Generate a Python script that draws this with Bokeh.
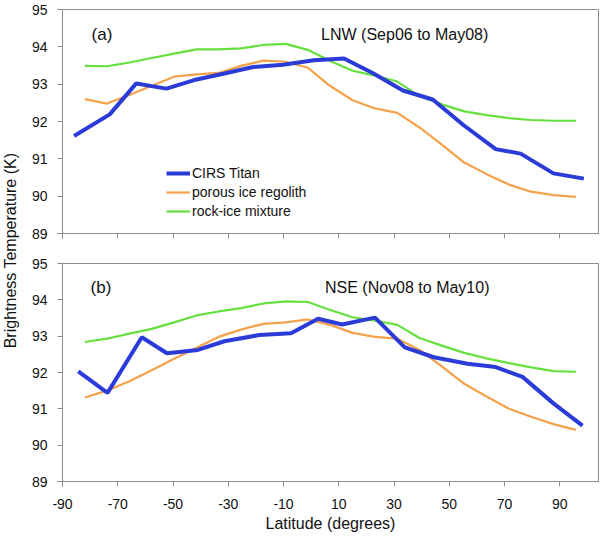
import math
from bokeh.plotting import figure
from bokeh.layouts import row, column
from bokeh.models import Range1d, FixedTicker, Legend, LegendItem, Label, CustomLabelingPolicy
from bokeh.embed import file_html
from bokeh.resources import INLINE

# ---------------- data ----------------
x_ticks = [-90, -70, -50, -30, -10, 10, 30, 50, 70, 90]
x_tick_labels = ["-90", "-70", "-50", "-30", "-10", "10", "30", "50", "70", "90"]
y_ticks = [89, 90, 91, 92, 93, 94, 95]

lat_cirs_a = [-85.8, -72.9, -63.3, -52.4, -42.3, -31.8, -21.0, -10.2, 1.0, 11.9,
              22.4, 33.2, 44.0, 55.2, 66.8, 75.8, 87.7, 98.7]
cirs_a = [91.61, 92.19, 93.02, 92.88, 93.11, 93.28, 93.46, 93.52, 93.64, 93.69,
          93.29, 92.83, 92.59, 91.90, 91.26, 91.14, 90.61, 90.47]

lat_model = [-81.9, -73.9, -65.8, -57.7, -49.6, -41.5, -33.5, -25.4, -17.3, -9.2,
             -1.2, 6.9, 15.0, 23.1, 31.2, 39.2, 47.3, 55.4, 63.5, 71.6, 79.6, 87.7, 95.8]
regolith_a = [92.60, 92.48, 92.71, 92.96, 93.20, 93.26, 93.30, 93.49, 93.63, 93.60,
              93.44, 92.95, 92.57, 92.35, 92.23, 91.84, 91.38, 90.90, 90.59, 90.31,
              90.12, 90.03, 89.98]
rockice_a = [93.49, 93.48, 93.58, 93.70, 93.82, 93.93, 93.93, 93.96, 94.05, 94.08,
             93.92, 93.62, 93.36, 93.23, 93.07, 92.68, 92.46, 92.27, 92.17, 92.09,
             92.04, 92.02, 92.02]

lat_cirs_b = [-84.3, -73.7, -61.3, -52.2, -41.0, -31.4, -18.8, -7.3, 2.5, 11.2,
              23.1, 33.9, 44.4, 56.6, 66.8, 76.5, 87.7, 98.2]
cirs_b = [92.03, 91.44, 92.97, 92.53, 92.62, 92.86, 93.03, 93.08, 93.48, 93.32,
          93.51, 92.69, 92.42, 92.24, 92.15, 91.88, 91.15, 90.54]
regolith_b = [91.31, 91.50, 91.76, 92.06, 92.38, 92.68, 92.98, 93.18, 93.34, 93.38,
              93.46, 93.31, 93.09, 92.98, 92.93, 92.62, 92.17, 91.69, 91.34, 91.00,
              90.78, 90.58, 90.42]
rockice_b = [92.84, 92.93, 93.07, 93.20, 93.38, 93.57, 93.68, 93.77, 93.90, 93.96,
             93.94, 93.72, 93.52, 93.43, 93.31, 92.95, 92.74, 92.54, 92.39, 92.26,
             92.14, 92.04, 92.02]

series_names = ["CIRS Titan", "porous ice regolith", "rock-ice mixture"]

# ---------------- style ----------------
FONT = "Liberation Sans"
AX = "#8c8c8c"
BLUE = "#2b3bd8"
ORANGE = "#f5a14a"
GREEN = "#66e03f"


def make_fig(height, min_top, min_bottom, show_x_labels):
    p = figure(width=571, height=height, x_range=Range1d(-90, 104), y_range=Range1d(89, 95),
               output_backend="svg", toolbar_location=None,
               min_border_left=33, min_border_right=1,
               min_border_top=min_top, min_border_bottom=min_bottom)
    p.xgrid.visible = False
    p.ygrid.visible = False
    p.outline_line_color = AX
    p.outline_line_width = 1
    p.background_fill_color = "white"
    p.border_fill_color = "white"
    for ax in (p.xaxis[0], p.yaxis[0]):
        ax.axis_line_color = AX
        ax.major_tick_line_color = AX
        ax.minor_tick_line_color = None
        ax.major_tick_in = 0
        ax.major_tick_out = 5
        ax.major_label_text_font = FONT
        ax.major_label_text_font_size = "14px"
        ax.major_label_text_color = "#111111"
    p.xaxis[0].ticker = FixedTicker(ticks=x_ticks)
    p.xaxis[0].major_label_overrides = {t: s for t, s in zip(x_ticks, x_tick_labels)}
    p.yaxis[0].ticker = FixedTicker(ticks=y_ticks)
    p.yaxis[0].major_label_standoff = 10
    if show_x_labels:
        p.xaxis[0].major_label_standoff = 12
        p.xaxis[0].axis_label = "Latitude (degrees)"
        p.xaxis[0].axis_label_text_font = FONT
        p.xaxis[0].axis_label_text_font_size = "16px"
        p.xaxis[0].axis_label_text_font_style = "normal"
        p.xaxis[0].axis_label_text_color = "#111111"
        p.xaxis[0].axis_label_standoff = 3
    else:
        # upper panel: tick marks only, no tick labels
        p.xaxis[0].major_label_policy = CustomLabelingPolicy(code="return []")
        p.xaxis[0].major_label_standoff = 0
    return p


def add_series(p, lat_c, cirs, reg, rock):
    r3 = p.line(lat_model, rock, line_color=GREEN, line_width=2.2)
    r2 = p.line(lat_model, reg, line_color=ORANGE, line_width=2.2)
    r1 = p.line(lat_c, cirs, line_color=BLUE, line_width=4)
    return r1, r2, r3


def add_text(p, x, y, txt, size, align):
    p.add_layout(Label(x=x, y=y, text=txt, text_font=FONT, text_font_size=size,
                       text_align=align, text_baseline="middle", text_color="#111111"))


pa = make_fig(253, 9, 20, False)
ra = add_series(pa, lat_cirs_a, cirs_a, regolith_a, rockice_a)
add_text(pa, -75.7, 94.33, "(a)", "17px", "center")
add_text(pa, 3.6, 94.34, "LNW (Sep06 to May08)", "16px", "left")

legend = Legend(items=[LegendItem(label=n, renderers=[r]) for n, r in zip(series_names, ra)],
                location=(104, 13), orientation="vertical",
                label_text_font=FONT, label_text_font_size="14px", label_text_color="#111111",
                glyph_width=24, glyph_height=18, label_height=18, label_standoff=2,
                spacing=1, padding=0, margin=0,
                border_line_color=None, background_fill_alpha=0)
pa.add_layout(legend)

pb = make_fig(283, 10, 55, True)
add_series(pb, lat_cirs_b, cirs_b, regolith_b, rockice_b)
add_text(pb, -76.1, 94.33, "(b)", "17px", "center")
add_text(pb, 5.0, 94.35, "NSE (Nov08 to May10)", "16px", "left")

# y-axis title shared by both panels
pl = figure(width=28, height=536, x_range=Range1d(0, 28), y_range=Range1d(0, 536),
            output_backend="svg", toolbar_location=None, min_border=0)
pl.axis.visible = False
pl.grid.visible = False
pl.outline_line_color = None
pl.add_layout(Label(x=10, y=286, text="Brightness Temperature (K)", angle=math.pi / 2,
                    text_font=FONT, text_font_size="16px", text_align="center",
                    text_baseline="middle", text_color="#111111"))

layout = row(pl, column(pa, pb, spacing=0), spacing=0)

open("out.html", "w").write(file_html(layout, INLINE))
